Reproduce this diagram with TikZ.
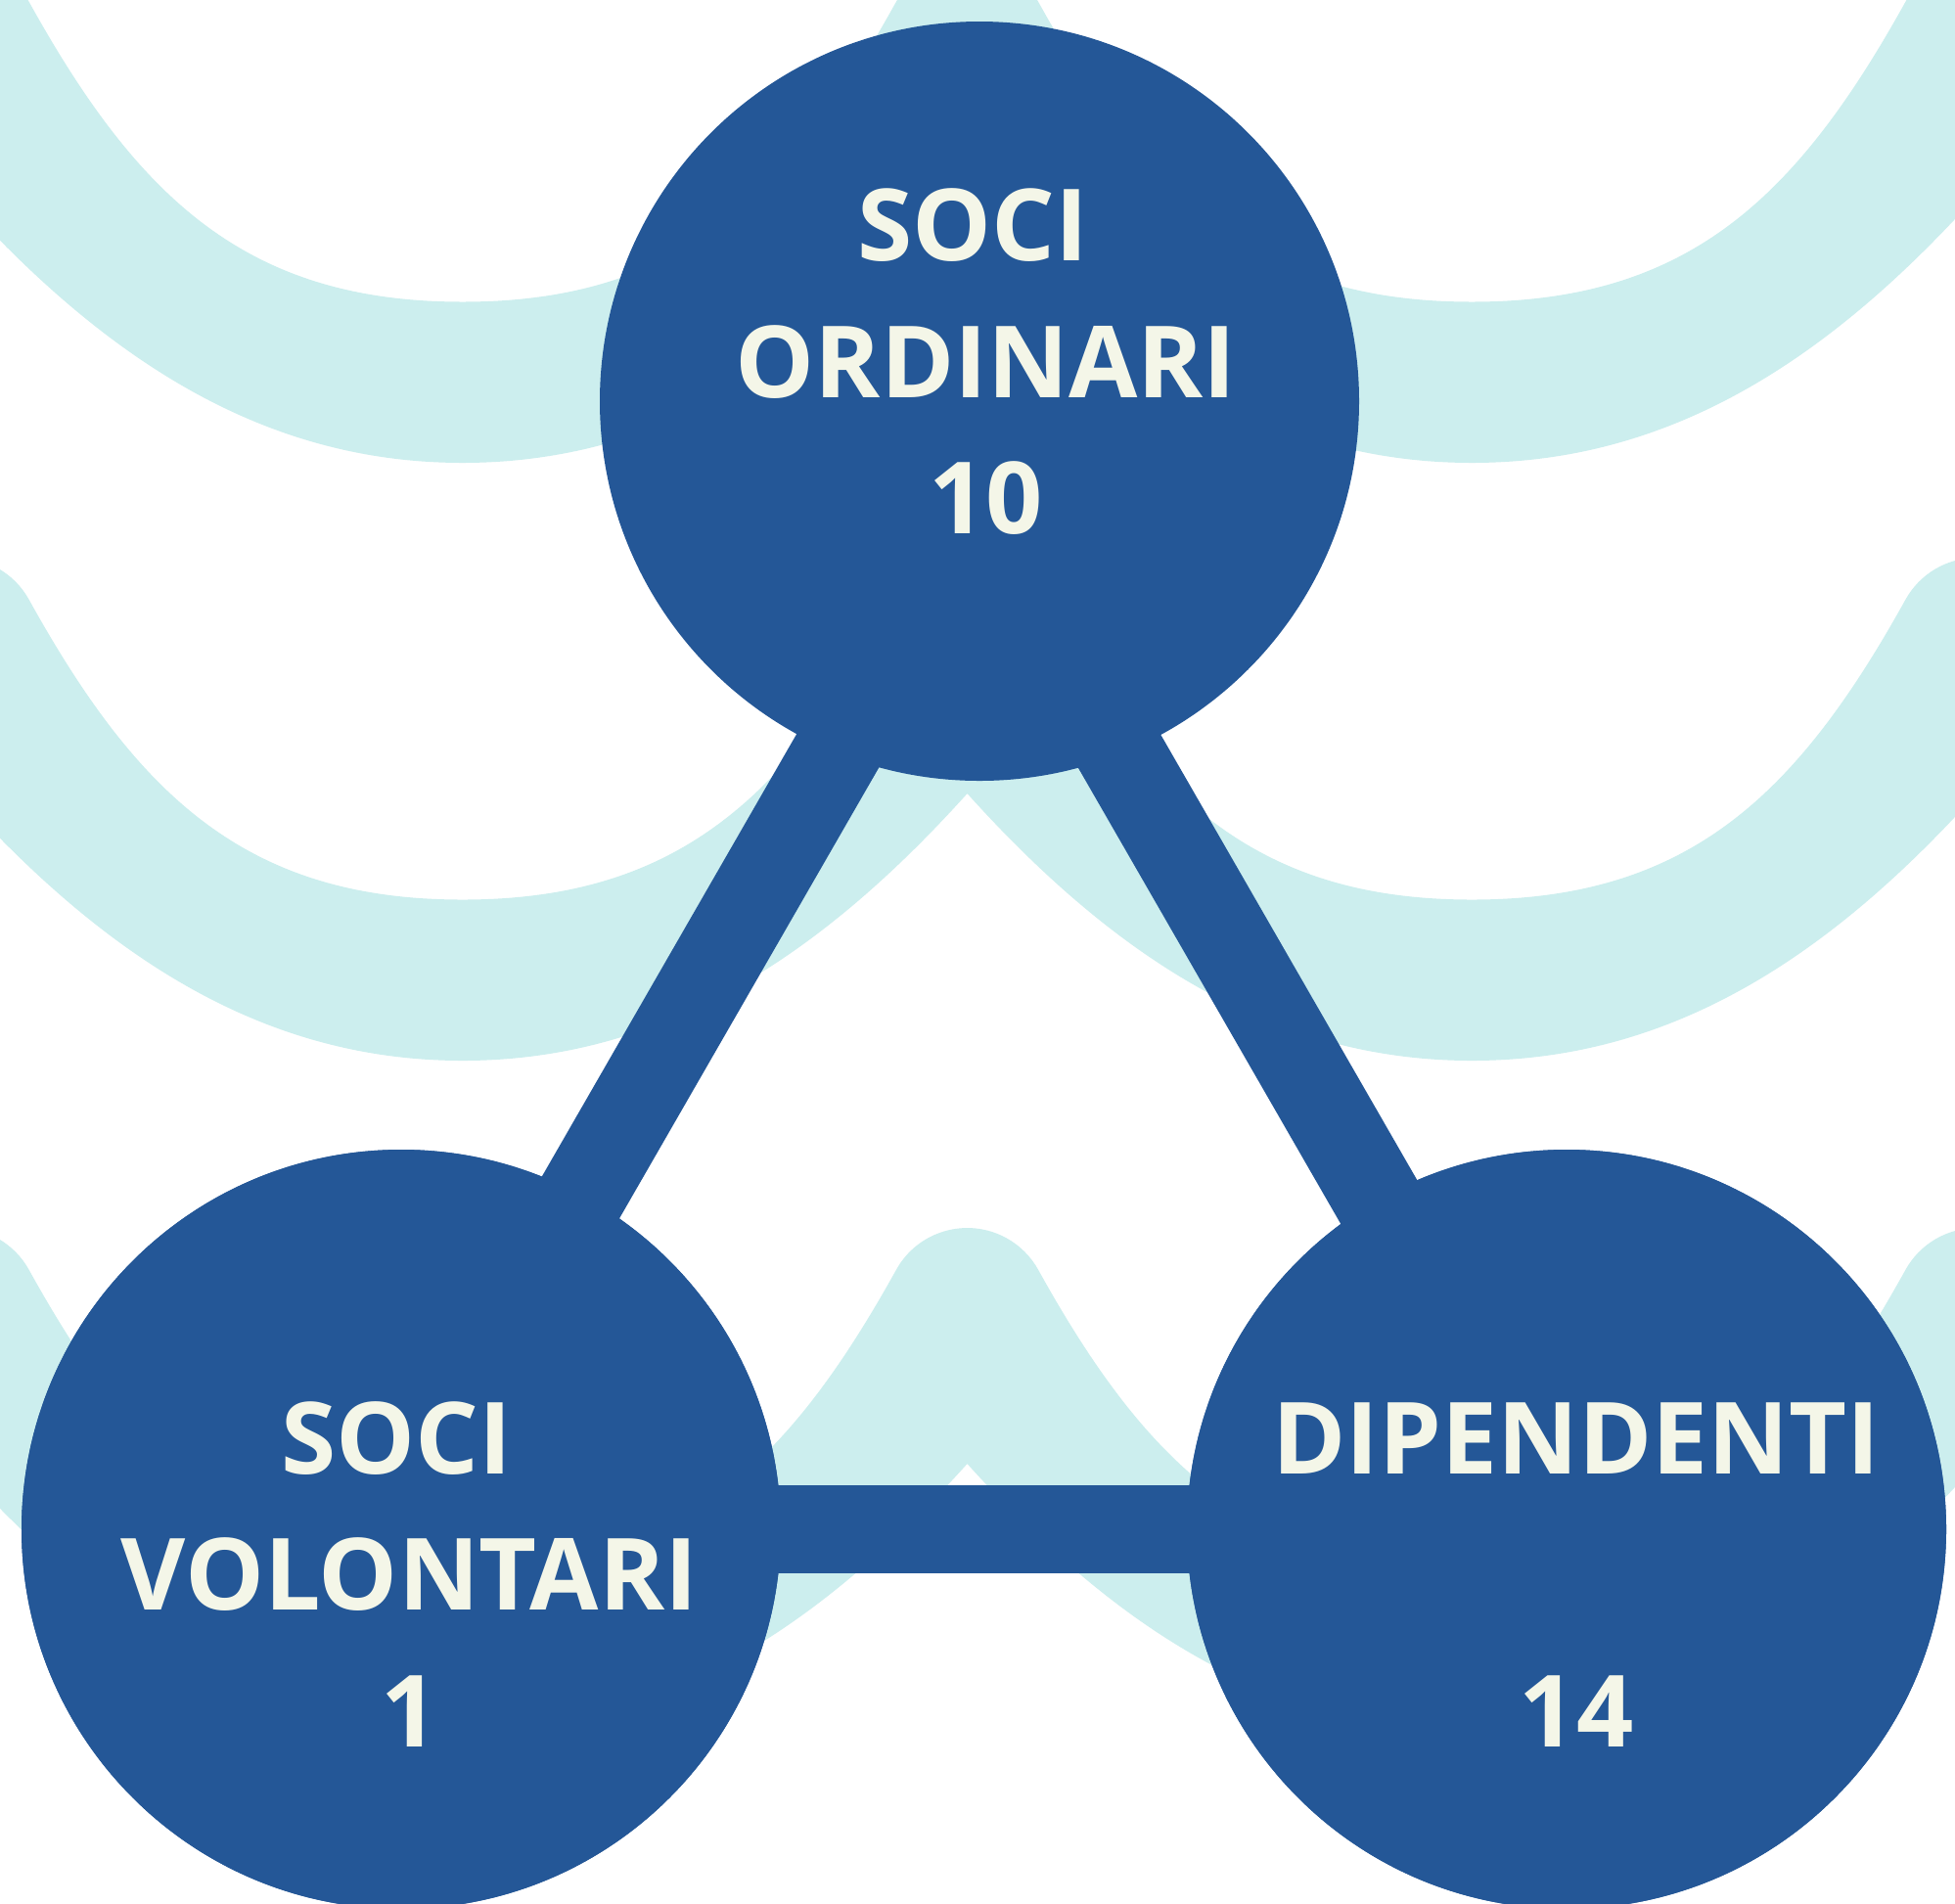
\documentclass[tikz,border=0pt]{standalone}
\usepackage{fontspec}
\newfontfamily\circfont{Open Sans}
\definecolor{circblue}{HTML}{245797}
\definecolor{wavecyan}{HTML}{CCEEEE}
\definecolor{textcream}{HTML}{F4F6E8}

\begin{document}
\begin{tikzpicture}[x=1cm,y=-1cm,
  wave/.style={fill=wavecyan},
  link/.style={circblue, line width=0.90cm},
  member/.style={circle, fill=circblue, minimum size=7.76cm, inner sep=0pt},
  caption/.style={textcream, align=center, inner sep=0pt,
    font=\circfont\bfseries\fontsize{29}{39.7}\selectfont}]
	\useasboundingbox (0,0) rectangle (19.98,19.45);
	\clip (0,0) rectangle (19.98,19.45);
	\fill[white] (0,0) rectangle (19.98,19.45);
	
	% background waves (top edge, then bottom edge back)
	\fill[wave] (-0.43,-0.41) arc[start angle=270, end angle=331, radius=0.83]
		.. controls +(1.116,2.013) and +(-2.2,0) .. (4.7275,3.085)
		.. controls +(2.2,0) and +(-1.116,2.013) .. (9.159,0.018)
		arc[start angle=209, end angle=331, radius=0.83]
		.. controls +(1.116,2.013) and +(-2.2,0) .. (15.0425,3.085)
		.. controls +(2.2,0) and +(-1.116,2.013) .. (19.474,0.018)
		arc[start angle=209, end angle=270, radius=0.83]
		-- (20.2,2.0)
		.. controls +(-1.54,1.71) and +(2.0,0) .. (15.0425,4.73)
		.. controls +(-2.0,0) and +(1.54,1.71) .. (9.885,2.0)
		.. controls +(-1.54,1.71) and +(2.0,0) .. (4.7275,4.73)
		.. controls +(-2.0,0) and +(1.54,1.71) .. (-0.43,2.0) -- cycle;
	\fill[wave] (-0.43,5.70) arc[start angle=270, end angle=331, radius=0.83]
		.. controls +(1.116,2.013) and +(-2.2,0) .. (4.7275,9.195)
		.. controls +(2.2,0) and +(-1.116,2.013) .. (9.159,6.128)
		arc[start angle=209, end angle=331, radius=0.83]
		.. controls +(1.116,2.013) and +(-2.2,0) .. (15.0425,9.195)
		.. controls +(2.2,0) and +(-1.116,2.013) .. (19.474,6.128)
		arc[start angle=209, end angle=270, radius=0.83]
		-- (20.2,8.11)
		.. controls +(-1.54,1.71) and +(2.0,0) .. (15.0425,10.84)
		.. controls +(-2.0,0) and +(1.54,1.71) .. (9.885,8.11)
		.. controls +(-1.54,1.71) and +(2.0,0) .. (4.7275,10.84)
		.. controls +(-2.0,0) and +(1.54,1.71) .. (-0.43,8.11) -- cycle;
	\fill[wave] (-0.43,12.55) arc[start angle=270, end angle=331, radius=0.83]
		.. controls +(1.116,2.013) and +(-2.2,0) .. (4.7275,16.045)
		.. controls +(2.2,0) and +(-1.116,2.013) .. (9.159,12.978)
		arc[start angle=209, end angle=331, radius=0.83]
		.. controls +(1.116,2.013) and +(-2.2,0) .. (15.0425,16.045)
		.. controls +(2.2,0) and +(-1.116,2.013) .. (19.474,12.978)
		arc[start angle=209, end angle=270, radius=0.83]
		-- (20.2,14.96)
		.. controls +(-1.54,1.71) and +(2.0,0) .. (15.0425,17.69)
		.. controls +(-2.0,0) and +(1.54,1.71) .. (9.885,14.96)
		.. controls +(-1.54,1.71) and +(2.0,0) .. (4.7275,17.69)
		.. controls +(-2.0,0) and +(1.54,1.71) .. (-0.43,14.96) -- cycle;
	
	% triangle
	\coordinate (apex) at (10.0,5.175);
	\coordinate (baseL) at (3.982,15.63);
	\coordinate (baseR) at (16.018,15.63);
	\draw[link] (apex) -- (baseL);
	\draw[link] (apex) -- (baseR);
	
	\node[member] (ord) at (10.01,4.10) {};
	\node[member] (vol) at (4.10,15.63) {};
	\node[member] (dip) at (16.01,15.63) {};
	\draw[link] (vol.center) -- (dip.center);
	\node[member] at (vol) {};
	\node[member] at (dip) {};
	
	\node[caption] (ordtxt) at (10.075,3.697) {SOCI\hphantom{\ }\\ORDINARI\\10};
	\node[caption] (voltxt) at (4.185,16.087) {SOCI\hphantom{\ }\\VOLONTARI\\1};
	\node[caption] (diptxt) at (16.11,16.10) {DIPENDENTI\\[39.7pt]14};
\end{tikzpicture}
\end{document}
